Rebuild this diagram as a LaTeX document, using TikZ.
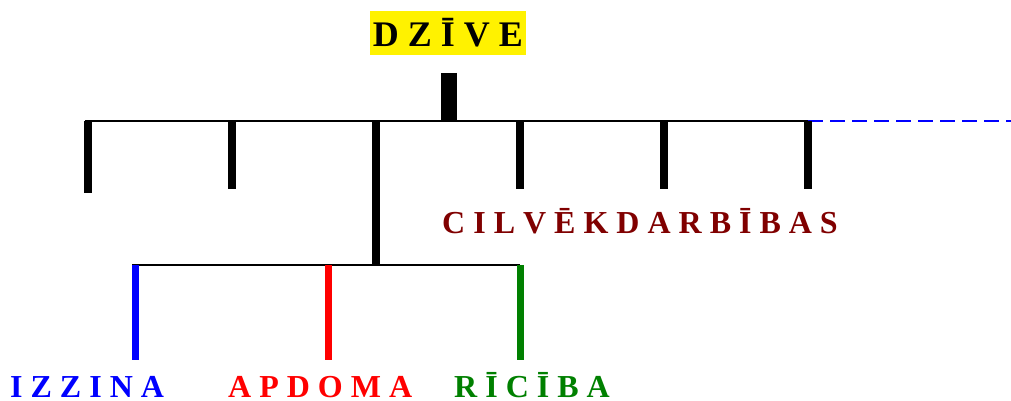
\documentclass[tikz,border=0pt]{standalone}
\usepackage{fontspec}
\setmainfont{Liberation Serif}
\usetikzlibrary{positioning}
\definecolor{darkred}{RGB}{128,0,0}
\definecolor{darkgreen}{RGB}{0,128,0}

\begin{document}
\begin{tikzpicture}[x=1pt,y=-1pt]
	 \tikzstyle{title}=[fill=yellow,inner sep=0pt,text height=36pt,text depth=8pt,minimum width=156pt,font=\fontsize{36}{36}\selectfont\bfseries]
	 \tikzstyle{label}=[anchor=base west,inner sep=0pt,text depth=0pt,font=\fontsize{32}{32}\selectfont\bfseries]

	 \tikzstyle{bar} = [line width=2pt,black]
	 \tikzstyle{stem} = [line width=8pt,black]
	 \tikzstyle{branch} = [line width=7pt]

	 \useasboundingbox (0,0) rectangle (1011,401);

	 \node[title,anchor=base] (dzive) at (448,47) {D Z Ī V E};

	 % upper level
	 \coordinate (top) at (449,73);
	 \coordinate (t0) at (449,121);
	 \coordinate (h1) at (85,121);
	 \coordinate (h2) at (808,121);
	 \coordinate (h3) at (1011,121);
	 \coordinate (a1) at (88,121);  \coordinate (b1) at (88,193);
	 \coordinate (a2) at (232,121); \coordinate (b2) at (232,189);
	 \coordinate (a3) at (376,121); \coordinate (b3) at (376,265);
	 \coordinate (a4) at (520,121); \coordinate (b4) at (520,189);
	 \coordinate (a5) at (664,121); \coordinate (b5) at (664,189);
	 \coordinate (a6) at (808,121); \coordinate (b6) at (808,189);

	 \draw[line width=16pt] (top) -- (t0);
	 \draw[bar] (h1) -- (h2);
	 \draw[line width=2pt,blue,dash pattern=on 15pt off 7pt] (h2) -- (h3);
	 \foreach \i in {1,...,6}
		\draw[stem] (a\i) -- (b\i);

	 \node[label,text=darkred] (cilv) at (442,233) {C I L V Ē K D A R B Ī B A S};

	 % lower level
	 \coordinate (l1) at (132,265);
	 \coordinate (l2) at (520,265);
	 \coordinate (c1) at (135,265); \coordinate (d1) at (135,360);
	 \coordinate (c2) at (328,265); \coordinate (d2) at (328,360);
	 \coordinate (c3) at (520,265); \coordinate (d3) at (520,360);

	 \draw[bar] (l1) -- (l2);
	 \draw[branch,blue] (c1) -- (d1);
	 \draw[branch,red] (c2) -- (d2);
	 \draw[branch,darkgreen] (c3) -- (d3);

	 \node[label,text=blue] (izzina) at (10,397) {I Z Z I N A};
	 \node[label,text=red] (apdoma) at (228,397) {A P D O M A};
	 \node[label,text=darkgreen] (riciba) at (454,397) {R Ī C Ī B A};
\end{tikzpicture}
\end{document}
